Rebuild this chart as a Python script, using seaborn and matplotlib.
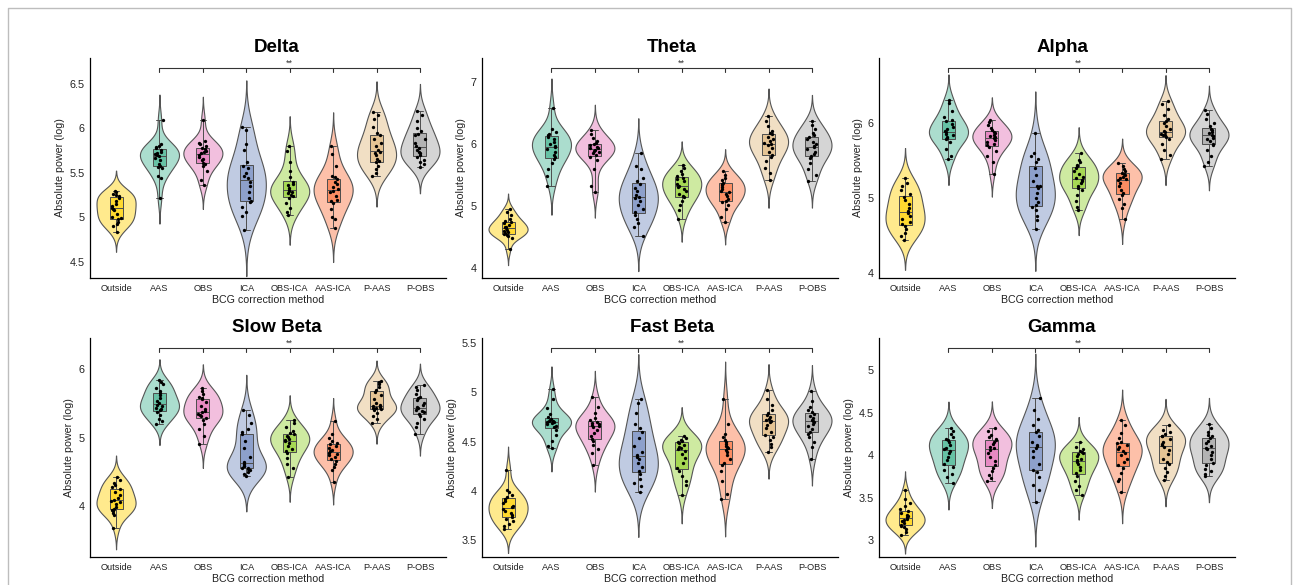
import numpy as np
import pandas as pd
import matplotlib
matplotlib.use("Agg")
import matplotlib.pyplot as plt
import matplotlib.transforms as mtransforms
from matplotlib.lines import Line2D
import seaborn as sns

categories = ["Outside", "AAS", "OBS", "ICA", "OBS-ICA", "AAS-ICA", "P-AAS", "P-OBS"]
box_colors = ["#ffd92f", "#66c2a5", "#e78ac3", "#8da0cb", "#a6d854", "#fc8d62", "#e5c494", "#b3b3b3"]

band_titles = ["Delta", "Theta", "Alpha", "Slow Beta", "Fast Beta", "Gamma"]

delta = [
    [5.30, 5.28, 5.26, 5.25, 5.24, 5.22, 5.18, 5.15, 5.13, 5.11, 5.10, 5.08, 5.04, 5.00, 4.99, 4.98, 4.95, 4.93, 4.90, 4.84],
    [6.09, 5.82, 5.80, 5.79, 5.78, 5.76, 5.74, 5.72, 5.71, 5.70, 5.69, 5.67, 5.64, 5.60, 5.58, 5.57, 5.55, 5.46, 5.44, 5.22],
    [6.09, 5.86, 5.84, 5.82, 5.80, 5.78, 5.77, 5.75, 5.73, 5.72, 5.70, 5.68, 5.66, 5.64, 5.61, 5.60, 5.58, 5.52, 5.42, 5.36],
    [6.02, 5.98, 5.83, 5.76, 5.62, 5.58, 5.55, 5.50, 5.47, 5.44, 5.40, 5.35, 5.28, 5.22, 5.19, 5.17, 5.12, 5.06, 5.02, 4.86],
    [5.80, 5.75, 5.62, 5.52, 5.45, 5.40, 5.38, 5.36, 5.33, 5.31, 5.30, 5.29, 5.27, 5.25, 5.24, 5.22, 5.16, 5.11, 5.06, 5.03],
    [5.80, 5.71, 5.58, 5.46, 5.45, 5.43, 5.40, 5.37, 5.34, 5.32, 5.30, 5.28, 5.24, 5.20, 5.18, 5.16, 5.10, 5.00, 4.98, 4.88],
    [6.18, 6.15, 6.10, 6.02, 5.95, 5.92, 5.88, 5.84, 5.80, 5.76, 5.74, 5.72, 5.70, 5.66, 5.63, 5.62, 5.58, 5.54, 5.50, 5.47],
    [6.20, 6.15, 6.08, 6.00, 5.97, 5.94, 5.92, 5.88, 5.84, 5.80, 5.78, 5.76, 5.74, 5.72, 5.70, 5.68, 5.65, 5.62, 5.60, 5.57],
]
theta = [
    [4.95, 4.91, 4.85, 4.80, 4.76, 4.74, 4.72, 4.69, 4.67, 4.66, 4.64, 4.62, 4.60, 4.58, 4.56, 4.55, 4.53, 4.51, 4.49, 4.30],
    [6.59, 6.25, 6.20, 6.17, 6.14, 6.12, 6.08, 6.03, 6.00, 5.97, 5.95, 5.92, 5.88, 5.83, 5.79, 5.76, 5.70, 5.60, 5.48, 5.33],
    [6.23, 6.16, 6.10, 6.05, 6.02, 6.00, 5.98, 5.96, 5.94, 5.93, 5.91, 5.89, 5.87, 5.85, 5.82, 5.80, 5.75, 5.60, 5.33, 5.22],
    [5.85, 5.64, 5.60, 5.45, 5.40, 5.36, 5.30, 5.24, 5.18, 5.15, 5.13, 5.08, 5.02, 4.96, 4.90, 4.86, 4.80, 4.72, 4.66, 4.52],
    [5.67, 5.61, 5.56, 5.52, 5.48, 5.46, 5.43, 5.40, 5.36, 5.33, 5.31, 5.28, 5.24, 5.20, 5.16, 5.14, 5.08, 5.02, 4.94, 4.80],
    [5.56, 5.51, 5.46, 5.42, 5.38, 5.36, 5.34, 5.31, 5.28, 5.25, 5.22, 5.19, 5.16, 5.12, 5.09, 5.07, 5.02, 4.95, 4.83, 4.74],
    [6.45, 6.38, 6.30, 6.22, 6.18, 6.16, 6.12, 6.08, 6.05, 6.02, 6.00, 5.98, 5.94, 5.88, 5.83, 5.80, 5.72, 5.62, 5.53, 5.42],
    [6.37, 6.31, 6.25, 6.18, 6.14, 6.11, 6.08, 6.04, 6.00, 5.97, 5.95, 5.92, 5.88, 5.84, 5.81, 5.78, 5.70, 5.60, 5.51, 5.40],
]
alpha = [
    [5.26, 5.20, 5.15, 5.10, 5.05, 5.01, 4.97, 4.92, 4.86, 4.82, 4.79, 4.75, 4.72, 4.68, 4.65, 4.62, 4.58, 4.53, 4.49, 4.44],
    [6.30, 6.26, 6.15, 6.08, 6.04, 6.02, 5.98, 5.94, 5.91, 5.89, 5.87, 5.85, 5.83, 5.81, 5.79, 5.78, 5.74, 5.65, 5.55, 5.51],
    [6.04, 6.01, 5.97, 5.93, 5.90, 5.88, 5.86, 5.84, 5.82, 5.81, 5.79, 5.77, 5.74, 5.72, 5.70, 5.67, 5.62, 5.55, 5.48, 5.31],
    [5.86, 5.60, 5.56, 5.52, 5.48, 5.40, 5.30, 5.22, 5.16, 5.15, 5.13, 5.06, 5.00, 4.94, 4.90, 4.87, 4.84, 4.76, 4.70, 4.58],
    [5.60, 5.50, 5.47, 5.44, 5.42, 5.40, 5.36, 5.32, 5.28, 5.26, 5.24, 5.22, 5.19, 5.16, 5.13, 5.10, 5.04, 4.96, 4.88, 4.84],
    [5.46, 5.42, 5.38, 5.35, 5.33, 5.32, 5.30, 5.28, 5.26, 5.25, 5.23, 5.20, 5.15, 5.10, 5.06, 5.03, 4.98, 4.92, 4.86, 4.71],
    [6.29, 6.25, 6.18, 6.10, 6.05, 6.02, 5.99, 5.95, 5.92, 5.89, 5.87, 5.85, 5.84, 5.83, 5.81, 5.78, 5.72, 5.64, 5.57, 5.51],
    [6.17, 6.12, 6.05, 5.99, 5.95, 5.92, 5.90, 5.88, 5.86, 5.84, 5.82, 5.80, 5.78, 5.75, 5.72, 5.70, 5.64, 5.56, 5.48, 5.42],
]
slow_beta = [
    [4.42, 4.38, 4.34, 4.30, 4.27, 4.24, 4.20, 4.16, 4.12, 4.09, 4.07, 4.05, 4.02, 3.99, 3.96, 3.94, 3.92, 3.89, 3.86, 3.68],
    [5.84, 5.81, 5.78, 5.72, 5.68, 5.65, 5.62, 5.58, 5.54, 5.50, 5.48, 5.46, 5.44, 5.42, 5.40, 5.38, 5.33, 5.28, 5.24, 5.20],
    [5.72, 5.68, 5.64, 5.60, 5.58, 5.56, 5.52, 5.47, 5.42, 5.39, 5.37, 5.35, 5.33, 5.31, 5.29, 5.26, 5.20, 5.12, 5.03, 4.91],
    [5.41, 5.33, 5.22, 5.12, 5.08, 5.05, 4.95, 4.85, 4.72, 4.64, 4.61, 4.59, 4.58, 4.56, 4.55, 4.54, 4.52, 4.50, 4.46, 4.43],
    [5.26, 5.22, 5.16, 5.10, 5.07, 5.05, 5.03, 5.01, 4.98, 4.96, 4.95, 4.92, 4.88, 4.84, 4.80, 4.77, 4.70, 4.62, 4.55, 4.42],
    [5.25, 5.06, 5.00, 4.95, 4.92, 4.90, 4.88, 4.85, 4.82, 4.80, 4.78, 4.76, 4.74, 4.71, 4.68, 4.66, 4.62, 4.57, 4.52, 4.35],
    [5.83, 5.81, 5.79, 5.74, 5.70, 5.67, 5.62, 5.56, 5.50, 5.48, 5.46, 5.45, 5.44, 5.43, 5.42, 5.40, 5.36, 5.31, 5.28, 5.21],
    [5.77, 5.74, 5.70, 5.64, 5.60, 5.58, 5.55, 5.51, 5.48, 5.45, 5.43, 5.41, 5.39, 5.37, 5.35, 5.32, 5.28, 5.22, 5.16, 5.05],
]
fast_beta = [
    [4.21, 4.01, 3.99, 3.96, 3.94, 3.92, 3.90, 3.88, 3.85, 3.84, 3.82, 3.80, 3.78, 3.76, 3.74, 3.72, 3.69, 3.66, 3.64, 3.61],
    [5.03, 4.93, 4.84, 4.78, 4.75, 4.73, 4.72, 4.71, 4.71, 4.70, 4.70, 4.69, 4.68, 4.66, 4.65, 4.62, 4.57, 4.51, 4.46, 4.43],
    [4.95, 4.85, 4.79, 4.74, 4.72, 4.70, 4.69, 4.68, 4.67, 4.66, 4.65, 4.62, 4.59, 4.56, 4.53, 4.51, 4.47, 4.42, 4.38, 4.26],
    [4.93, 4.89, 4.79, 4.68, 4.64, 4.60, 4.54, 4.46, 4.39, 4.36, 4.34, 4.32, 4.28, 4.24, 4.20, 4.17, 4.12, 4.08, 4.05, 3.99],
    [4.56, 4.54, 4.52, 4.51, 4.50, 4.49, 4.47, 4.45, 4.43, 4.42, 4.40, 4.37, 4.33, 4.28, 4.23, 4.20, 4.15, 4.10, 4.06, 3.96],
    [4.93, 4.68, 4.58, 4.55, 4.52, 4.50, 4.48, 4.46, 4.44, 4.43, 4.41, 4.39, 4.36, 4.32, 4.28, 4.26, 4.20, 4.10, 3.97, 3.92],
    [5.02, 4.93, 4.87, 4.82, 4.79, 4.77, 4.75, 4.73, 4.72, 4.71, 4.70, 4.67, 4.64, 4.60, 4.57, 4.55, 4.52, 4.48, 4.45, 4.39],
    [5.01, 4.91, 4.85, 4.82, 4.80, 4.78, 4.76, 4.74, 4.72, 4.71, 4.70, 4.68, 4.66, 4.63, 4.60, 4.58, 4.55, 4.50, 4.44, 4.32],
]
gamma = [
    [3.59, 3.48, 3.44, 3.40, 3.37, 3.34, 3.32, 3.30, 3.28, 3.27, 3.25, 3.24, 3.22, 3.20, 3.18, 3.17, 3.15, 3.13, 3.10, 3.06],
    [4.32, 4.29, 4.25, 4.21, 4.19, 4.18, 4.15, 4.12, 4.09, 4.07, 4.05, 4.02, 3.98, 3.94, 3.89, 3.86, 3.82, 3.78, 3.74, 3.67],
    [4.32, 4.29, 4.24, 4.21, 4.19, 4.18, 4.16, 4.13, 4.10, 4.08, 4.06, 4.02, 3.98, 3.93, 3.88, 3.85, 3.81, 3.77, 3.73, 3.69],
    [4.67, 4.53, 4.43, 4.36, 4.30, 4.27, 4.22, 4.16, 4.12, 4.11, 4.09, 4.05, 3.98, 3.90, 3.83, 3.80, 3.74, 3.65, 3.59, 3.45],
    [4.16, 4.10, 4.07, 4.05, 4.04, 4.03, 4.01, 3.99, 3.96, 3.94, 3.92, 3.89, 3.86, 3.83, 3.79, 3.76, 3.70, 3.64, 3.59, 3.53],
    [4.41, 4.36, 4.26, 4.20, 4.16, 4.14, 4.12, 4.10, 4.07, 4.05, 4.03, 4.00, 3.96, 3.92, 3.88, 3.85, 3.79, 3.72, 3.69, 3.56],
    [4.35, 4.30, 4.27, 4.25, 4.23, 4.22, 4.19, 4.16, 4.13, 4.12, 4.10, 4.06, 4.01, 3.96, 3.92, 3.89, 3.85, 3.80, 3.76, 3.71],
    [4.37, 4.32, 4.27, 4.24, 4.22, 4.20, 4.17, 4.14, 4.11, 4.09, 4.07, 4.04, 4.00, 3.96, 3.91, 3.88, 3.84, 3.81, 3.78, 3.75],
]

y_limits = [(4.32, 6.79), (3.84, 7.39), (3.93, 6.86), (3.25, 6.46), (3.33, 5.55), (2.80, 5.38)]
y_ticks = [[4.5, 5, 5.5, 6, 6.5], [4, 5, 6, 7], [4, 5, 6], [4, 5, 6],
           [3.5, 4, 4.5, 5, 5.5], [3, 3.5, 4, 4.5, 5]]

# ---------------------------------------------------------------- styling
sns.set_theme(style="ticks")
plt.rcParams["font.family"] = ["Liberation Sans", "DejaVu Sans"]

W, H = 1293, 585
fig = plt.figure(figsize=(W / 100, H / 100), dpi=100)

lefts_px = [90, 482, 879]
width_px = 356
rows_px = [(58, 278), (338, 557)]
title_x_px = [277, 672, 1062]

def light(c, f=0.5):
    rgb = np.array(matplotlib.colors.to_rgb(c))
    return tuple(rgb * f + (1 - f))

violin_colors = [light(c, 0.55) for c in box_colors]

all_bands = [delta, theta, alpha, slow_beta, fast_beta, gamma]

for i, (band, title) in enumerate(zip(all_bands, band_titles)):
    r, c = divmod(i, 3)
    top, bot = rows_px[r]
    ax = fig.add_axes([lefts_px[c] / W, 1 - bot / H, width_px / W, (bot - top) / H])

    df = pd.DataFrame({
        "method": np.repeat(categories, [len(v) for v in band]),
        "value": np.concatenate(band),
    })
    df["method"] = pd.Categorical(df["method"], categories=categories, ordered=True)

    sns.violinplot(data=df, x="method", y="value", hue="method", order=categories,
                   hue_order=categories, palette=violin_colors, inner=None,
                   linewidth=0.8, linecolor="#555555", cut=2.7, bw_adjust=1.1,
                   width=0.9, density_norm="area", saturation=1, legend=False, ax=ax)
    sns.boxplot(data=df, x="method", y="value", hue="method", order=categories,
                hue_order=categories, palette=box_colors, width=0.3, whis=(0, 100),
                showfliers=False, linewidth=0.7, linecolor="#4d4d4d", saturation=1,
                legend=False, ax=ax)
    sns.stripplot(data=df, x="method", y="value", order=categories, color="black",
                  size=2.4, jitter=0.11, ax=ax, zorder=5)

    ax.set_xlim(-0.6, 7.6)
    ax.set_ylim(*y_limits[i])
    ax.set_yticks(y_ticks[i])
    ax.set_yticklabels([f"{t:g}" for t in y_ticks[i]])
    ax.tick_params(axis="y", length=0, pad=4, labelsize=7.8, labelcolor="#222222")
    ax.tick_params(axis="x", length=0, pad=4, labelsize=6.6, labelcolor="#222222")
    ax.set_xlabel("BCG correction method", fontsize=7.7, labelpad=2, color="#222222")
    ax.set_ylabel("Absolute power (log)", fontsize=7.7, labelpad=3, color="#222222")
    for s in ["top", "right"]:
        ax.spines[s].set_visible(False)
    for s in ["left", "bottom"]:
        ax.spines[s].set_color("black")
        ax.spines[s].set_linewidth(0.9)
    ax.set_title(title, x=(title_x_px[c] - lefts_px[c]) / width_px, pad=4,
                 fontsize=13.5, fontweight="bold", color="black")

    # significance bracket
    trans = mtransforms.blended_transform_factory(ax.transData, ax.transAxes)
    yb = 0.955
    drop = 4 / (bot - top)
    ax.plot([1, 7], [yb, yb], transform=trans, color="#333333", lw=0.8, clip_on=False)
    for k in range(1, 8):
        ax.plot([k, k], [yb, yb - drop], transform=trans, color="#333333", lw=0.8,
                clip_on=False)
    ax.text(4, yb + 0.002, "**", transform=trans, ha="center", va="bottom",
            fontsize=6.5, color="#333333")

# figure frame (light grey border)
fx = lambda px: px / W
fy = lambda py: 1 - py / H
frame = Line2D([fx(7.5), fx(7.5), fx(1290.5), fx(1290.5)],
               [0, fy(7.5), fy(7.5), 0], transform=fig.transFigure,
               color="#bdbdbd", lw=1.0)
fig.add_artist(frame)

fig.savefig("out.png", dpi=100)
